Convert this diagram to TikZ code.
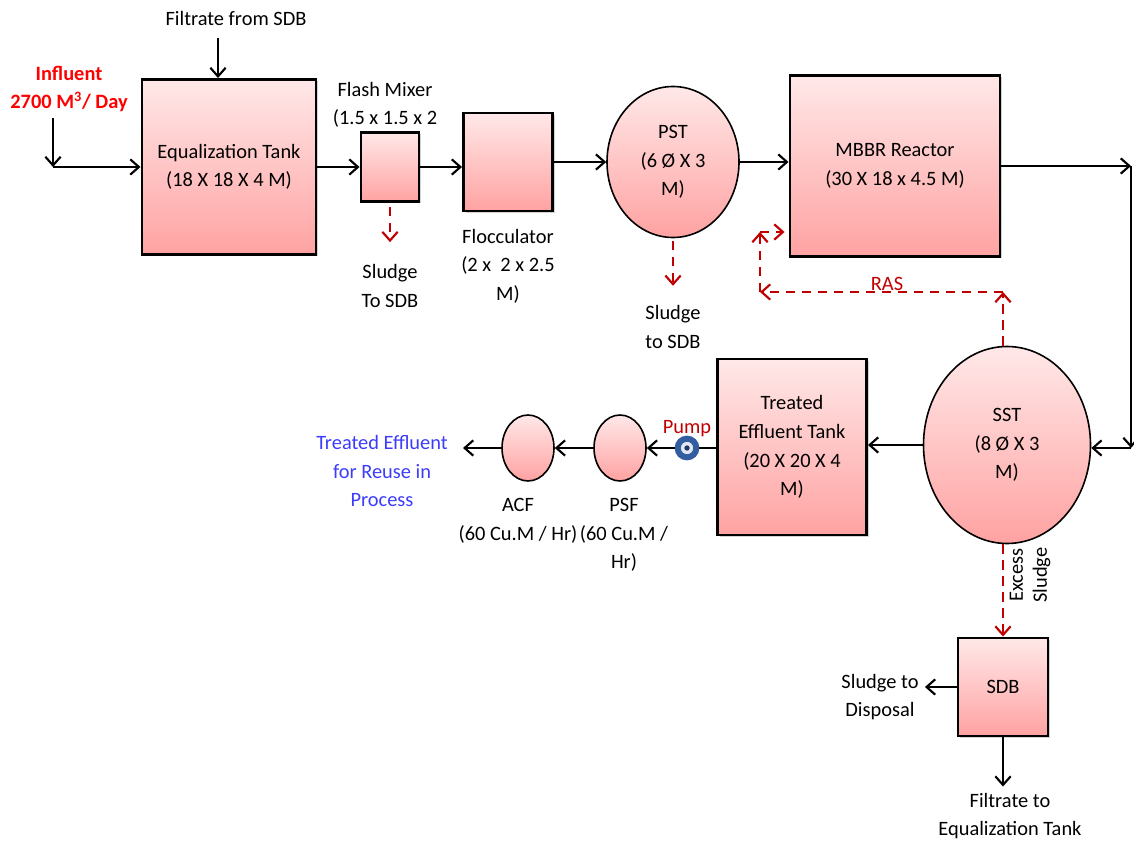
\documentclass[tikz,border=0pt]{standalone}
\usepackage{fontspec}
\setmainfont{Carlito}
\usetikzlibrary{arrows.meta, positioning, shapes.geometric, shadows}
\definecolor{tanktop}{RGB}{255,232,232}
\definecolor{tankbot}{RGB}{255,162,162}
\definecolor{sludgered}{RGB}{192,0,0}
\definecolor{reuseblue}{RGB}{60,60,250}
\definecolor{pumpblue}{RGB}{52,92,160}

\begin{document}
\begin{tikzpicture}[x=0.75pt,y=-0.75pt,>={Straight Barb[length=6.5pt,width=11.5pt]},
    font=\fontsize{15.3}{21.5}\selectfont,line width=1.6pt]
    \tikzstyle{tank}=[rectangle,draw,line width=2.2pt,top color=tanktop,bottom color=tankbot,
        align=center,inner sep=0pt,drop shadow={shadow xshift=1.5pt,shadow yshift=-1.5pt,opacity=0.35}]
    \tikzstyle{settler}=[ellipse,draw,line width=1.2pt,top color=tanktop,bottom color=tankbot,
        align=center,inner sep=0pt]
    \tikzstyle{txt}=[align=center,inner sep=4pt]
    \tikzstyle{sludge}=[color=sludgered,dash pattern=on 7pt off 5pt,line width=1.6pt]

    \useasboundingbox (0,0) rectangle (1134,841);

    % tanks
    \node[tank, minimum width=130.5pt, minimum height=131.25pt] (EQ) at (229,167) {Equalization Tank\\(18 X 18 X 4 M)};
    \node[tank, minimum width=43.5pt, minimum height=51.75pt] (FM) at (390,167) {};
    \node[tank, minimum width=66.75pt, minimum height=73.5pt] (FL) at (508,162) {};
    \node[settler, minimum width=99pt, minimum height=113.25pt] (PST) at (673,162) {PST\\(6 Ø X 3\\M)};
    \node[tank, minimum width=157.5pt, minimum height=135.75pt] (MBBR) at (895,166) {MBBR Reactor\\(30 X 18 x 4.5 M)};
    \node[settler, minimum width=125.25pt, minimum height=147.75pt] (SST) at (1007,445) {SST\\(8 Ø X 3\\M)};
    \node[tank, minimum width=111.75pt, minimum height=132pt] (TET) at (792,447) {Treated\\Effluent Tank\\(20 X 20 X 4\\M)};
    \node[settler, minimum width=39pt, minimum height=49.5pt] (PSF) at (620,448) {};
    \node[settler, minimum width=39pt, minimum height=49.5pt] (ACF) at (528,448) {};
    \node[tank, minimum width=67.5pt, minimum height=73.5pt] (SDB) at (1003,687) {SDB};
    \node[circle, draw=pumpblue, line width=4.5pt, fill=pumpblue!15, minimum size=14pt, inner sep=0pt] (P) at (687,448) {};

    % texts
    \node[txt] (FSDB) at (236,18) {Filtrate from SDB};
    \node[txt, text=red, font=\fontsize{15.3}{21}\selectfont\bfseries] (INF) at (69,89) {Influent\\2700 M\textsuperscript{3}/ Day};
    \node[txt] (FMlbl) at (385,105) {Flash Mixer\\(1.5 x 1.5 x 2};
    \node[txt] (FMsl) at (390,286) {Sludge\\To SDB};
    \node[txt] (FLlbl) at (508,266) {Flocculator\\(2 x \ 2 x 2.5\\M)};
    \node[txt] (PSTsl) at (673,327) {Sludge\\to SDB};
    \node[txt, text=sludgered, inner sep=0pt] (RAS) at (887,284) {RAS};
    \node[txt, text=sludgered, inner sep=0pt] (Plbl) at (687,429) {Pump};
    \node[txt] (PSFlbl) at (624,535) {PSF\\(60 Cu.M /\\Hr)};
    \node[txt] (ACFlbl) at (518,521) {ACF\\(60 Cu.M / Hr)};
    \node[txt, text=reuseblue] (REUSE) at (382,471) {Treated Effluent\\for Reuse in\\Process};
    \node[txt, rotate=90, font=\fontsize{15.3}{18}\selectfont] (EXS) at (1030,575) {Excess\\Sludge};
    \node[txt] (DISP) at (880,697) {Sludge to\\Disposal};
    \node[txt] (FEQ) at (1010,816) {Filtrate to\\Equalization Tank};

    % bends
    \coordinate (INturn) at (53,167);
    \coordinate (FIN) at (218,38);
    \coordinate (C1) at (1131,166);
    \coordinate (C2) at (1131,448);
    \coordinate (OUT) at (463,448);
    \coordinate (RASa) at (1003,292);
    \coordinate (RASb) at (760,292);
    \coordinate (RASc) at (760,232);

    % main flow
    \path[->]
    (INturn |- INF.south) edge (INturn)
    (INturn) edge (EQ)
    (FIN) edge (FIN |- EQ.north)
    (EQ.east) edge (FM.west)
    (FM.east) edge (FM.east -| FL.west)
    (FL.east) edge (FL.east -| PST.west)
    (PST.east) edge (PST.east -| MBBR.west)
    (MBBR.east) edge (C1)
    (C1) edge (C2)
    (C2) edge (C2 -| SST.east)
    (SST.west) edge (SST.west -| TET.east)
    (P) edge (PSF)
    (PSF) edge (ACF)
    (ACF) edge (OUT)
    (SDB.west) edge (SDB.west -| DISP.east)
    (SDB.south) edge (SDB.south |- FEQ.north)
    ;
    \draw (TET.west |- P) -- (P.east);
    \fill[pumpblue!60!black] (P) circle (2pt);

    % sludge lines
    \path[sludge,->]
    ([yshift=-3pt]FM.south) edge[shorten >=12pt] (FM.south |- FMsl.north)
    ([yshift=-2pt]PST.south) edge[shorten >=10pt] (PST.south |- PSTsl.north)
    (RASa |- SST.north) edge (RASa)
    (RASa) edge (RASb)
    (RASb) edge (RASc)
    (RASc) edge[shorten >=3pt] (RASc -| MBBR.west)
    (SDB.north |- SST.south) edge (SDB.north)
    ;

\end{tikzpicture}
\end{document}
